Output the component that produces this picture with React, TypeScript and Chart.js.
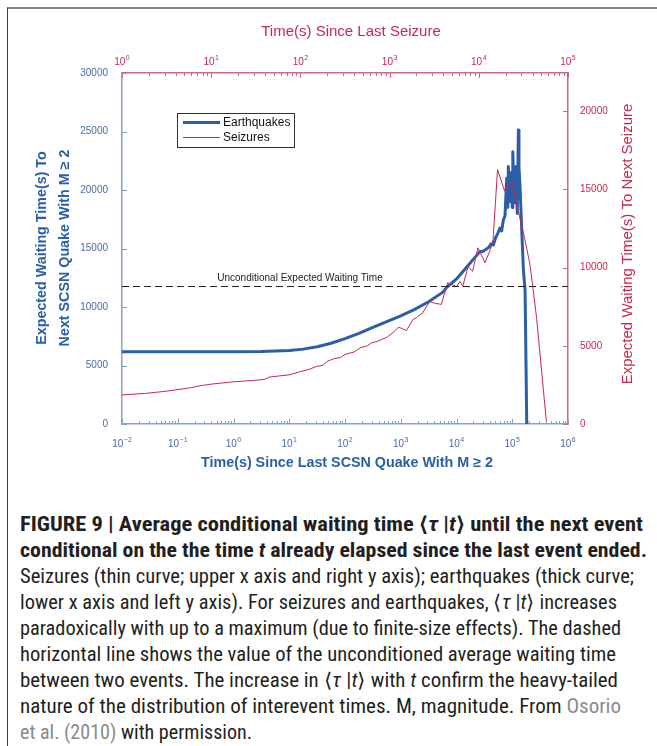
import React, { useEffect, useRef } from 'react';
import { Chart, registerables } from 'chart.js';

Chart.register(...registerables);

// Earthquakes: log10 of time since last quake (lower x axis) and expected waiting time (left y axis)
const eqLogT = [
  -2, -1.5, -1, -0.5, 0, 0.5, 1, 1.25, 1.5, 1.75, 2, 2.25, 2.5, 2.75, 3, 3.25, 3.5, 3.75, 3.83, 4,
  4.2, 4.35, 4.42, 4.47, 4.52, 4.58, 4.62, 4.66, 4.7, 4.74, 4.78, 4.81, 4.84, 4.87, 4.9, 4.92, 4.93,
  4.95, 4.96, 4.98, 5.0, 5.01, 5.03, 5.04, 5.06, 5.07, 5.09, 5.11, 5.12, 5.14, 5.17, 5.2, 5.23, 5.26,
];
const eqWait = [
  6180, 6180, 6180, 6180, 6185, 6200, 6280, 6400, 6600, 6900, 7300, 7750, 8250, 8750, 9250, 9800, 10450, 11250, 11700, 12400,
  13500, 14350, 14750, 14750, 14900, 15100, 15400, 15300, 15900, 16300, 16750, 16500, 17440, 17800, 21000, 18500, 22000,
  19000, 19740, 21500, 18500, 23270, 20000, 18900, 21000, 22000, 18000, 25130, 22000, 20280, 16580, 13160, 11450, 0,
];

// Seizures: log10 of time since last seizure (upper x axis) and expected waiting time (right y axis)
const szLogT = [
  0, 0.25, 0.5, 0.75, 0.88, 1.0, 1.25, 1.5, 1.6, 1.65, 1.88, 2.0, 2.1, 2.18, 2.25, 2.3, 2.37, 2.45, 2.5, 2.6,
  2.67, 2.75, 2.8, 2.86, 2.97, 3.05, 3.1, 3.19, 3.26, 3.3, 3.37, 3.45, 3.49, 3.58, 3.65, 3.75, 3.79, 3.82,
  3.88, 3.93, 3.99, 4.07, 4.13, 4.16, 4.21, 4.29, 4.37, 4.42, 4.5, 4.57, 4.61, 4.65, 4.76,
];
const szWait = [
  1860, 1950, 2100, 2300, 2450, 2550, 2700, 2800, 2850, 3000, 3150, 3350, 3500, 3680, 3750, 4000, 4170, 4250, 4450, 4600,
  4870, 5000, 5200, 5280, 5550, 5900, 6200, 5980, 6670, 6800, 7110, 7840, 7750, 7650, 9040, 8800, 9120, 8800,
  10080, 9760, 11270, 10320, 11150, 11800, 16280, 14890, 15450, 14170, 12240, 10320, 8590, 6670, 0,
];

const unconditionalWait = 11750;

const bottomExps = [-2, -1, 0, 1, 2, 3, 4, 5, 6];
const topExps = [0, 1, 2, 3, 4, 5];
const leftTicks = [0, 5000, 10000, 15000, 20000, 25000, 30000];
const rightTicks = [0, 5000, 10000, 15000, 20000];

const captionLines = [
  'FIGURE 9 | Average conditional waiting time ⟨τ |t⟩ until the next event',
  'conditional on the the time t already elapsed since the last event ended.',
  'Seizures (thin curve; upper x axis and right y axis); earthquakes (thick curve;',
  'lower x axis and left y axis). For seizures and earthquakes, ⟨τ |t⟩ increases',
  'paradoxically with up to a maximum (due to finite-size effects). The dashed',
  'horizontal line shows the value of the unconditioned average waiting time',
  'between two events. The increase in ⟨τ |t⟩ with t confirm the heavy-tailed',
  'nature of the distribution of interevent times. M, magnitude. From Osorio',
  'et al. (2010) with permission.',
];
const captionEnds = [643, 647, 634, 617, 621, 616, 618, 621, 252];

const BLUE = '#2c5ea8';
const BLUE_TXT = '#4a6aa5';
const BLUE_AXIS = '#86a2c6';
const RED = '#c42a4c';
const RED_AXIS = '#cc6a86';
const FONT = '"Liberation Sans", Arial, Helvetica, sans-serif';

const decorPlugin = {
  id: 'decor',
  afterDatasetsDraw(chart: any) {
    const ctx = chart.ctx as CanvasRenderingContext2D;
    const { x, x2, y, y2 } = chart.scales;
    const a = chart.chartArea;
    ctx.save();
    // inward ticks: bottom
    ctx.lineWidth = 1;
    ctx.strokeStyle = BLUE_AXIS;
    for (let e = -2; e <= 6; e++) {
      for (let k = 1; k <= 9; k++) {
        const v = k * Math.pow(10, e);
        if (v > 1e6 * 1.0001) break;
        const px = Math.round(x.getPixelForValue(v)) + 0.5;
        const len = k === 1 ? 5 : 3;
        ctx.beginPath();
        ctx.moveTo(px, a.bottom);
        ctx.lineTo(px, a.bottom - len);
        ctx.stroke();
      }
    }
    for (const v of leftTicks) {
      const py = Math.round(y.getPixelForValue(v)) + 0.5;
      ctx.beginPath();
      ctx.moveTo(a.left, py);
      ctx.lineTo(a.left + 5, py);
      ctx.stroke();
    }
    ctx.strokeStyle = RED_AXIS;
    for (let e = 0; e <= 5; e++) {
      for (let k = 1; k <= 9; k++) {
        const v = k * Math.pow(10, e);
        if (v > 1e5 * 1.0001) break;
        const px = Math.round(x2.getPixelForValue(v)) + 0.5;
        const len = k === 1 ? 5 : 3;
        ctx.beginPath();
        ctx.moveTo(px, a.top);
        ctx.lineTo(px, a.top + len);
        ctx.stroke();
      }
    }
    for (const v of rightTicks) {
      const py = Math.round(y2.getPixelForValue(v)) + 0.5;
      ctx.beginPath();
      ctx.moveTo(a.right, py);
      ctx.lineTo(a.right - 5, py);
      ctx.stroke();
    }

    // log axis labels with superscripts
    const drawPow = (px: number, baseline: number, exp: number, color: string) => {
      const base = '10';
      const sup = String(exp).replace('-', '\u2212');
      ctx.font = `10px ${FONT}`;
      const w1 = ctx.measureText(base).width;
      ctx.font = `7px ${FONT}`;
      const w2 = ctx.measureText(sup).width;
      const start = px - (w1 + w2 + 0.5) / 2;
      ctx.fillStyle = color;
      ctx.textAlign = 'left';
      ctx.textBaseline = 'alphabetic';
      ctx.font = `10px ${FONT}`;
      ctx.fillText(base, start, baseline);
      ctx.font = `7px ${FONT}`;
      ctx.fillText(sup, start + w1 + 0.5, baseline - 5);
    };
    for (const e of bottomExps) drawPow(x.getPixelForValue(Math.pow(10, e)), 447, e, BLUE_TXT);
    for (const e of topExps) drawPow(x2.getPixelForValue(Math.pow(10, e)), 65, e, RED);

    // axis titles
    ctx.textAlign = 'center';
    ctx.textBaseline = 'middle';
    ctx.fillStyle = RED;
    ctx.font = `15px ${FONT}`;
    ctx.fillText('Time(s) Since Last Seizure', 351, 32);
    ctx.fillStyle = BLUE;
    ctx.font = `bold 14.3px ${FONT}`;
    ctx.fillText('Time(s) Since Last SCSN Quake With M \u2265 2', 347, 463);

    ctx.save();
    ctx.translate(42, 248);
    ctx.rotate(-Math.PI / 2);
    ctx.fillText('Expected Waiting Time(s) To', 0, 0);
    ctx.restore();
    ctx.save();
    ctx.translate(65, 248);
    ctx.rotate(-Math.PI / 2);
    ctx.fillText('Next SCSN Quake With M \u2265 2', 0, 0);
    ctx.restore();

    ctx.save();
    ctx.fillStyle = RED;
    ctx.font = `15px ${FONT}`;
    ctx.translate(628, 244);
    ctx.rotate(-Math.PI / 2);
    ctx.fillText('Expected Waiting Time(s) To Next Seizure', 0, 0);
    ctx.restore();

    // dashed line label
    ctx.fillStyle = '#222';
    ctx.font = `10px ${FONT}`;
    ctx.fillText('Unconditional Expected Waiting Time', 300, 278);

    // legend
    const lx = 177, ly = 113, lw = 117, lh = 34;
    ctx.fillStyle = '#fff';
    ctx.fillRect(lx, ly, lw, lh);
    ctx.strokeStyle = '#333';
    ctx.lineWidth = 1;
    ctx.strokeRect(lx + 0.5, ly + 0.5, lw, lh);
    ctx.strokeStyle = BLUE;
    ctx.lineWidth = 3;
    ctx.beginPath();
    ctx.moveTo(183, 122.5);
    ctx.lineTo(220, 122.5);
    ctx.stroke();
    ctx.strokeStyle = RED;
    ctx.lineWidth = 1;
    ctx.beginPath();
    ctx.moveTo(183, 137.5);
    ctx.lineTo(220, 137.5);
    ctx.stroke();
    ctx.fillStyle = '#111';
    ctx.font = `12px ${FONT}`;
    ctx.textAlign = 'left';
    ctx.fillText('Earthquakes', 223, 122.5);
    ctx.fillText('Seizures', 223, 137.5);
    ctx.restore();
  },
};

function ChartCanvas() {
  const ref = useRef<HTMLCanvasElement | null>(null);
  useEffect(() => {
    if (!ref.current) return;
    const eqData = eqLogT.map((l, i) => ({ x: Math.pow(10, l), y: eqWait[i] }));
    const szData = szLogT.map((l, i) => ({ x: Math.pow(10, l), y: szWait[i] }));
    const chart = new Chart(ref.current, {
      type: 'line',
      data: {
        datasets: [
          {
            label: 'Unconditional',
            data: [
              { x: Math.pow(10, bottomExps[0]), y: unconditionalWait },
              { x: Math.pow(10, bottomExps[bottomExps.length - 1]), y: unconditionalWait },
            ],
            xAxisID: 'x',
            yAxisID: 'y',
            borderColor: '#222',
            borderWidth: 1,
            borderDash: [7, 4],
            pointRadius: 0,
          },
          {
            label: 'Seizures',
            data: szData,
            xAxisID: 'x2',
            yAxisID: 'y2',
            borderColor: RED,
            borderWidth: 1,
            pointRadius: 0,
            tension: 0,
          },
          {
            label: 'Earthquakes',
            data: eqData,
            xAxisID: 'x',
            yAxisID: 'y',
            borderColor: BLUE,
            borderWidth: 3,
            borderJoinStyle: 'round',
            pointRadius: 0,
            tension: 0,
          },
        ],
      } as any,
      options: {
        responsive: false,
        animation: false,
        devicePixelRatio: 1,
        layout: { padding: 0 },
        plugins: { legend: { display: false }, tooltip: { enabled: false } },
        scales: {
          x: {
            type: 'logarithmic',
            position: 'bottom',
            min: 0.01,
            max: 1e6,
            grid: { display: true, drawOnChartArea: false, drawTicks: false },
            border: { color: BLUE_AXIS, width: 1.5 },
            ticks: { display: false },
            afterBuildTicks: (s: any) => {
              s.ticks = bottomExps.map((e) => ({ value: Math.pow(10, e) }));
            },
            afterFit: (s: any) => {
              s.height = 66;
            },
          },
          x2: {
            type: 'logarithmic',
            position: 'top',
            min: 1,
            max: 1e5,
            grid: { display: true, drawOnChartArea: false, drawTicks: false },
            border: { color: RED_AXIS, width: 1.5 },
            ticks: { display: false },
            afterBuildTicks: (s: any) => {
              s.ticks = topExps.map((e) => ({ value: Math.pow(10, e) }));
            },
            afterFit: (s: any) => {
              s.height = 73;
            },
          },
          y: {
            type: 'linear',
            position: 'left',
            min: 0,
            max: 30000,
            grid: { display: true, drawOnChartArea: false, drawTicks: false },
            border: { color: BLUE_AXIS, width: 1.5 },
            ticks: {
              color: BLUE_TXT,
              font: { family: FONT, size: 10 },
              padding: 14,
              callback: (v: any) => String(v),
            },
            afterBuildTicks: (s: any) => {
              s.ticks = leftTicks.map((v) => ({ value: v }));
            },
            afterFit: (s: any) => {
              s.width = 122;
            },
          },
          y2: {
            type: 'linear',
            position: 'right',
            min: 0,
            max: 22450,
            grid: { display: true, drawOnChartArea: false, drawTicks: false },
            border: { color: RED_AXIS, width: 1.5 },
            ticks: {
              color: RED,
              font: { family: FONT, size: 10 },
              padding: 12,
              callback: (v: any) => String(v),
            },
            afterBuildTicks: (s: any) => {
              s.ticks = rightTicks.map((v) => ({ value: v }));
            },
            afterFit: (s: any) => {
              s.width = 89;
            },
          },
        },
      } as any,
      plugins: [decorPlugin],
    });
    return () => chart.destroy();
  }, []);
  return <canvas ref={ref} width={657} height={490} style={{ position: 'absolute', left: 0, top: 0 }} />;
}

function Caption() {
  const capFont = '"Liberation Sans Narrow", "Roboto Condensed", "Liberation Sans", Arial, sans-serif';
  const base = 531;
  const lh = 26;
  const ink = '#231f20';
  const link = '#8a8a8a';
  const it = (s: string) => <tspan fontStyle="italic">{s}</tspan>;
  const bracket = [<tspan key="a">⟨</tspan>, <tspan key="b" fontStyle="italic">τ</tspan>, <tspan key="c"> |</tspan>, <tspan key="d" fontStyle="italic">t</tspan>, <tspan key="e">⟩</tspan>];
  const contents: any[] = [
    <>FIGURE 9 | Average conditional waiting time {bracket} until the next event</>,
    <>conditional on the the time {it('t')} already elapsed since the last event ended.</>,
    <>{captionLines[2]}</>,
    <>lower x axis and left y axis). For seizures and earthquakes, {bracket} increases</>,
    <>{captionLines[4]}</>,
    <>{captionLines[5]}</>,
    <>between two events. The increase in {bracket} with {it('t')} confirm the heavy-tailed</>,
    <>nature of the distribution of interevent times. M, magnitude. From <tspan fill={link}>Osorio</tspan></>,
    <><tspan fill={link}>et al. (2010)</tspan> with permission.</>,
  ];
  return (
    <svg width={657} height={746} style={{ position: 'absolute', left: 0, top: 0 }}>
      {contents.map((c, i) => (
        <text
          key={i}
          x={20}
          y={base + i * lh}
          fontFamily={capFont}
          fontSize={19.5}
          fontWeight={i < 2 ? 'bold' : 'normal'}
          fill={ink}
          textLength={captionEnds[i] - 20}
          lengthAdjust="spacingAndGlyphs"
        >
          {c}
        </text>
      ))}
    </svg>
  );
}

export default function App() {
  return (
    <div style={{ position: 'absolute', left: 0, top: 0, width: 657, height: 746, overflow: 'hidden', background: '#fff' }}>
      <div
        style={{
          position: 'absolute',
          left: 7,
          top: 7,
          width: 720,
          height: 800,
          borderLeft: '1.5px solid #3a3a3a',
          borderTop: '2px solid #858585',
        }}
      />
      <Caption />
      <ChartCanvas />
    </div>
  );
}
